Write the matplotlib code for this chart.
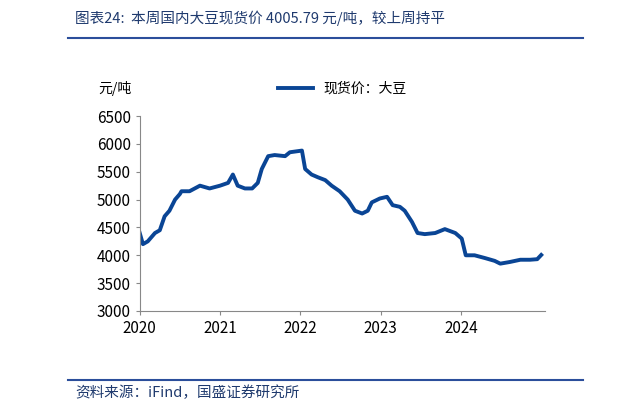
import matplotlib.pyplot as plt
import matplotlib.lines as mlines

plt.rcParams['font.family'] = ['Noto Sans CJK SC', 'DejaVu Sans']

years = [2020.00, 2020.04, 2020.10, 2020.19, 2020.25, 2020.31, 2020.37, 2020.44, 2020.50, 2020.52,
         2020.62, 2020.75, 2020.87, 2021.00, 2021.10, 2021.16, 2021.22, 2021.31, 2021.40, 2021.47,
         2021.52, 2021.60, 2021.68, 2021.81, 2021.87, 2022.02, 2022.06, 2022.14, 2022.22, 2022.31,
         2022.39, 2022.49, 2022.59, 2022.68, 2022.77, 2022.84, 2022.89, 2022.99, 2023.08, 2023.15,
         2023.24, 2023.30, 2023.39, 2023.46, 2023.55, 2023.68, 2023.80, 2023.93, 2024.01, 2024.06,
         2024.17, 2024.30, 2024.42, 2024.49, 2024.61, 2024.74, 2024.86, 2024.95, 2025.00]
prices = [4400, 4200, 4250, 4400, 4450, 4700, 4800, 5000, 5100, 5150,
          5150, 5250, 5200, 5250, 5300, 5450, 5250, 5200, 5200, 5300,
          5550, 5780, 5800, 5780, 5850, 5880, 5550, 5450, 5400, 5350,
          5250, 5150, 5000, 4800, 4750, 4800, 4950, 5020, 5050, 4900,
          4870, 4800, 4600, 4400, 4380, 4400, 4470, 4400, 4300, 4000,
          4000, 3950, 3900, 3850, 3880, 3920, 3920, 3930, 4005.79]
xticks = [2020, 2021, 2022, 2023, 2024]
yticks = [3000, 3500, 4000, 4500, 5000, 5500, 6000, 6500]

blue = '#0a4595'
fig = plt.figure(figsize=(6.21, 4.13), dpi=100)
ax = fig.add_axes([0.225, 0.247, 0.653, 0.472])
ax.plot(years, prices, color=blue, lw=2.8, solid_joinstyle='round', label='现货价：大豆')
ax.set_xlim(2020, 2025.05)
ax.set_ylim(3000, 6500)
ax.set_xticks(xticks)
ax.set_yticks(yticks)
ax.tick_params(labelsize=11, length=3, color='#888888')
for s in ['top', 'right']:
    ax.spines[s].set_visible(False)
for s in ['left', 'bottom']:
    ax.spines[s].set_color('#888888')
ax.legend(loc='lower center', bbox_to_anchor=(0.5, 1.04), frameon=False, fontsize=10,
          handlelength=2.5)
fig.text(98/621, 1-88/413, '元/吨', fontsize=10, va='center')

fig.text(75/621, 1-18/413, '图表24:  本周国内大豆现货价 4005.79 元/吨，较上周持平',
         fontsize=10.5, style='italic', color='#1f3a6e', va='center')
fig.add_artist(mlines.Line2D([68/621, 583/621], [1-38/413, 1-38/413], color='#2b4e9b', lw=1.5))
fig.add_artist(mlines.Line2D([68/621, 583/621], [1-380/413, 1-380/413], color='#2b4e9b', lw=1.5))
fig.text(75/621, 1-393/413, '资料来源：iFind，国盛证券研究所', fontsize=10.5, style='italic',
         color='#1f3a6e', va='center')

fig.savefig('out.png', dpi=100)
